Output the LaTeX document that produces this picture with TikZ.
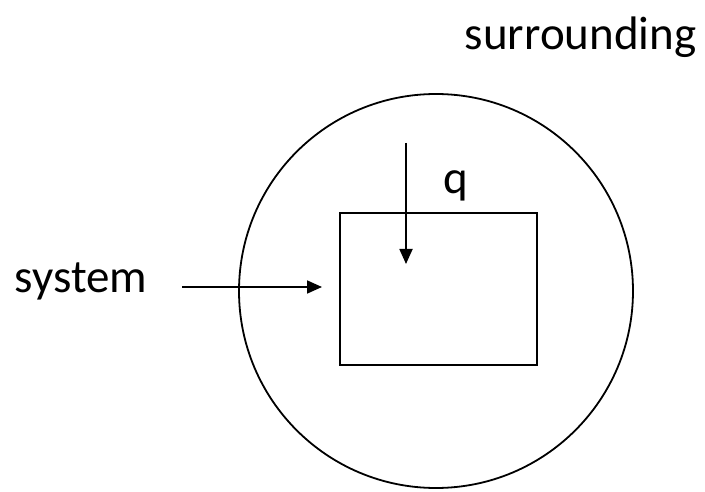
\documentclass[tikz,border=0pt]{standalone}
\usepackage{fontspec}
\setmainfont{Carlito}
\usetikzlibrary{arrows.meta, positioning, calc}

\begin{document}
\begin{tikzpicture}[>={Triangle[length=15pt,width=13pt]}, x=1pt, y=-1pt, line width=1.8pt,
    every node/.style={font=\fontsize{47}{56}\selectfont}]
    \useasboundingbox (0,0) rectangle (705,492);

    % Shapes
    \node (surr) [draw, circle, minimum size=394pt, inner sep=0pt] at (436,291) {};
    \node (sys) [draw, rectangle, minimum width=197pt, minimum height=152pt, inner sep=0pt] at (438.5,289) {};

    % Labels
    \node (surrlabel) [anchor=base west, inner sep=0pt] at (464,50) {surrounding};
    \node (syslabel) [anchor=base west, inner sep=0pt] at (14,292) {system};
    \node (qlabel) [anchor=base, inner sep=0pt] at (456,194) {q};

    % Arrows
    \coordinate (sysstart) at (182,287);
    \coordinate (sysend) at (322,287);
    \coordinate (qstart) at (406,143);
    \coordinate (qend) at (406,264);
    \draw[->] (sysstart) -- (sysend);
    \draw[->] (qstart) -- (qend);
\end{tikzpicture}
\end{document}
